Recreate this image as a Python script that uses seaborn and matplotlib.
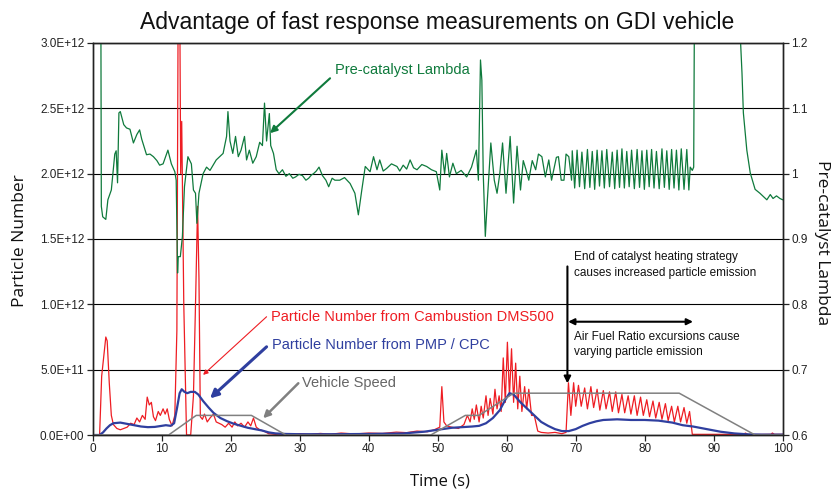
import matplotlib
matplotlib.use("Agg")
import matplotlib.pyplot as plt
import seaborn as sns
import pandas as pd

# ---------------- data ----------------
# DMS500 particle number, (time s, PN in 1e11)
red_points = [
    (0, 0), (1.0, 0), (1.3, 4.5), (1.6, 6.0), (1.9, 7.5), (2.1, 7.2), (2.4, 4.0), (2.7, 1.5),
    (3.0, 0.8), (3.5, 0.5), (4.0, 0.4), (4.5, 0.5), (5.0, 0.6), (5.5, 0.9), (6.0, 0.8),
    (6.4, 1.3), (6.8, 1.0), (7.2, 1.5), (7.6, 1.2), (7.9, 2.9), (8.2, 2.3), (8.5, 2.5),
    (8.8, 1.4), (9.1, 1.1), (9.5, 1.8), (9.8, 1.5), (10.2, 2.0), (10.5, 1.6), (10.8, 2.0),
    (11.1, 1.2), (11.5, 0.7), (11.9, 1.5), (12.2, 8.0), (12.4, 35), (12.6, 35), (12.75, 20),
    (12.9, 24), (13.2, 10), (13.6, 0), (14.2, 0), (14.6, 3.0), (14.9, 10), (15.2, 17.5),
    (15.4, 12), (15.6, 1.4), (15.9, 1.2), (16.2, 1.6), (16.6, 1.0), (17.0, 1.3), (17.5, 1.6),
    (17.9, 1.0), (18.3, 0.9), (18.7, 0.8), (19.2, 0.6), (19.7, 0.9), (20.2, 0.6), (20.6, 1.0),
    (21.0, 0.7), (21.5, 0.9), (22.0, 0.6), (22.5, 1.0), (22.9, 0.7), (23.3, 1.3), (23.7, 0.6),
    (24.2, 0.4), (24.8, 0.3), (25.5, 0.1), (26.5, 0.05), (27.5, 0.1), (29, 0.04), (30, 0.1),
    (31.5, 0.05), (33, 0.12), (34.5, 0.06), (36, 0.15), (38, 0.08), (40, 0.15), (42, 0.12),
    (44, 0.22), (45.5, 0.18), (47, 0.3), (48.5, 0.25), (49.5, 0.4), (50.3, 0.6), (50.6, 3.7),
    (50.9, 1.0), (51.3, 0.7), (52, 0.6), (53, 0.5), (53.8, 0.8), (54.3, 1.5), (54.7, 1.0),
    (55.0, 2.0), (55.3, 1.2), (55.6, 2.3), (56.0, 1.0), (56.3, 2.2), (56.6, 1.3), (57.0, 3.0),
    (57.3, 1.5), (57.6, 2.8), (58.0, 1.6), (58.3, 3.5), (58.6, 2.0), (58.9, 3.0), (59.2, 1.8),
    (59.5, 5.9), (59.8, 2.5), (60.1, 7.1), (60.4, 3.0), (60.7, 6.6), (61.0, 2.5), (61.3, 5.5),
    (61.6, 2.0), (61.9, 4.5), (62.2, 1.8), (62.6, 3.7), (62.9, 2.0), (63.2, 3.5), (63.6, 1.5),
    (64.0, 1.5), (64.5, 0.3), (65, 0.2), (66, 0.15), (67, 0.2), (68, 0.1), (68.6, 0.2),
    (68.95, 4.0), (69.3, 1.5), (69.7, 4.0), (70.0, 2.2), (70.4, 3.8), (70.8, 2.2), (71.3, 3.6),
    (71.7, 2.0), (72.2, 3.7), (72.6, 2.1), (73.1, 3.5), (73.5, 1.9), (74.0, 3.4), (74.4, 2.0),
    (74.9, 3.3), (75.3, 1.8), (75.8, 3.3), (76.2, 1.7), (76.7, 3.1), (77.1, 1.7), (77.6, 3.0),
    (78.0, 1.6), (78.5, 3.0), (78.9, 1.5), (79.4, 2.9), (79.8, 1.5), (80.3, 2.7), (80.7, 1.4),
    (81.2, 2.6), (81.6, 1.3), (82.1, 2.5), (82.5, 1.2), (83.0, 2.4), (83.4, 1.1), (83.9, 2.2),
    (84.3, 1.0), (84.8, 2.2), (85.2, 1.0), (85.7, 2.1), (86.1, 0.9), (86.5, 1.8), (86.9, 0.05),
    (94.3, 0.05), (94.6, 0.15), (95, 0.03), (98.3, 0.05), (98.5, 0.15), (98.8, 0.05), (100, 0.05),
]

# PMP / CPC particle number, (time s, PN in 1e11)
blue_points = [
    (0, 0), (1.0, 0), (1.5, 0.2), (2.0, 0.5), (2.5, 0.75), (3.0, 0.9), (4.0, 0.95), (5.0, 0.85),
    (6.0, 0.75), (7.0, 0.65), (8.0, 0.6), (9.0, 0.62), (10.0, 0.7), (10.6, 0.75), (11.3, 0.7),
    (11.8, 0.9), (12.2, 2.0), (12.6, 3.2), (12.9, 3.5), (13.3, 3.3), (13.7, 3.2), (14.2, 3.3),
    (14.8, 3.3), (15.3, 3.1), (16.0, 2.6), (16.8, 2.1), (17.5, 1.7), (18.5, 1.3), (19.5, 1.05),
    (20.5, 0.85), (21.5, 0.7), (22.5, 0.55), (23.5, 0.45), (24.5, 0.35), (25.5, 0.2),
    (26.5, 0.12), (28, 0.08), (30, 0.06), (35, 0.06), (40, 0.08), (45, 0.12), (48, 0.25),
    (50, 0.4), (52, 0.55), (53.5, 0.6), (55, 0.65), (56, 0.7), (57, 0.9), (58, 1.3), (59, 1.9),
    (59.8, 2.7), (60.4, 3.2), (61, 3.1), (62, 2.5), (63, 2.0), (64, 1.5), (65, 1.0), (66, 0.7),
    (67, 0.45), (68, 0.3), (69, 0.3), (70, 0.45), (71, 0.7), (72, 0.9), (73, 1.05), (74, 1.15),
    (76, 1.2), (78, 1.15), (80, 1.15), (82, 1.1), (84, 0.95), (85.5, 0.75), (87, 0.65),
    (89, 0.45), (91, 0.25), (93, 0.12), (95, 0.05), (97, 0.03), (100, 0.03),
]

# vehicle speed (time s, km/h)
speed_points = [(0, 0), (11, 0), (15, 15), (23, 15), (28, 0), (49, 0), (54, 15), (56, 15),
                (61, 32), (85, 32), (96, 0), (100, 0)]

# pre-catalyst lambda (time s, lambda)
lambda_points = [
    (1.15, 1.40), (1.25, 0.95), (1.45, 0.934), (1.9, 0.93), (2.2, 0.96), (2.7, 0.975),
    (3.2, 1.03), (3.4, 1.035), (3.6, 0.986), (3.8, 1.093), (4.0, 1.095), (4.5, 1.075),
    (4.9, 1.07), (5.4, 1.068), (5.9, 1.047), (6.4, 1.06), (6.8, 1.067), (7.1, 1.053),
    (7.8, 1.029), (8.3, 1.03), (8.8, 1.026), (9.3, 1.02), (9.7, 1.013), (10.2, 1.015),
    (10.9, 1.036), (11.4, 1.015), (11.9, 1.003), (12.1, 0.99), (12.3, 0.848), (12.4, 0.873),
    (12.7, 0.873), (13.0, 0.904), (13.3, 0.98), (13.8, 1.026), (14.3, 1.015), (14.6, 0.975),
    (14.9, 0.97), (15.1, 0.924), (15.4, 0.97), (16.0, 1.0), (16.5, 1.01), (17.0, 1.005),
    (17.9, 1.021), (18.9, 1.031), (19.4, 1.057), (19.6, 1.095), (19.9, 1.05), (20.3, 1.031),
    (20.7, 1.057), (21.1, 1.026), (21.5, 1.036), (22.0, 1.057), (22.3, 1.021), (22.7, 1.036),
    (23.2, 1.016), (23.7, 1.026), (24.2, 1.048), (24.6, 1.043), (24.9, 1.108), (25.2, 1.05),
    (25.6, 1.092), (25.8, 1.043), (26.2, 1.031), (26.6, 1.006), (27.0, 1.0), (27.5, 1.006),
    (28.0, 0.996), (28.5, 1.0), (29.0, 0.993), (29.4, 0.995), (29.9, 0.999), (30.4, 0.997),
    (30.9, 0.99), (31.3, 0.993), (31.7, 0.998), (32.0, 1.0), (32.4, 1.004), (32.8, 1.01),
    (33.3, 0.997), (33.8, 0.99), (34.2, 0.98), (34.7, 0.993), (35.1, 0.99), (35.8, 0.99),
    (36.5, 0.994), (37.3, 0.985), (38.0, 0.97), (38.5, 0.937), (39.0, 0.975), (39.5, 1.011),
    (40.2, 1.003), (40.7, 1.026), (41.2, 1.006), (41.6, 1.021), (42.1, 1.004), (42.6, 1.008),
    (43.3, 1.015), (44.1, 1.011), (44.5, 1.004), (45.0, 1.013), (45.5, 1.007), (46.0, 1.021),
    (46.5, 1.009), (47.0, 1.006), (47.7, 1.014), (48.4, 1.011), (49.1, 1.006), (49.8, 1.003),
    (50.3, 0.975), (50.6, 1.036), (51.0, 1.0), (51.3, 1.031), (51.7, 0.995),
    (52.2, 1.016), (52.7, 1.0), (53.4, 1.005), (54.2, 0.995), (54.9, 1.01), (55.6, 1.036),
    (55.9, 0.99), (56.2, 1.174), (56.4, 1.143), (56.6, 1.0), (56.9, 0.904), (57.2, 0.96),
    (57.7, 1.047), (58.2, 0.99), (58.6, 0.97), (59.0, 1.0), (59.4, 1.047), (59.9, 0.97),
    (60.5, 1.057), (61.0, 0.955), (61.5, 1.042), (62.0, 0.975), (62.4, 1.02), (62.8, 1.006),
    (63.2, 0.99), (63.7, 1.02), (64.2, 1.006), (64.6, 1.03), (65.1, 1.026), (65.6, 0.995),
    (66.1, 1.021), (66.5, 0.99), (67.2, 1.025), (67.5, 1.026), (67.9, 0.99), (68.3, 0.99),
    (68.6, 1.03), (69.0, 1.026), (69.4, 0.99), (69.5, 1.035), (69.85, 0.978), (70.2, 1.036),
    (70.55, 0.98), (70.9, 1.033), (71.3, 0.977), (71.7, 1.037), (72.05, 0.979), (72.4, 1.034),
    (72.75, 0.976), (73.1, 1.036), (73.45, 0.981), (73.8, 1.035), (74.15, 0.978), (74.5, 1.037),
    (74.9, 0.98), (75.3, 1.033), (75.65, 0.977), (76.0, 1.036), (76.35, 0.979), (76.7, 1.038),
    (77.05, 0.978), (77.4, 1.034), (77.75, 0.98), (78.1, 1.036), (78.5, 0.977), (78.9, 1.037),
    (79.25, 0.979), (79.6, 1.035), (79.95, 0.976), (80.3, 1.036), (80.65, 0.98), (81.0, 1.037),
    (81.35, 0.978), (81.7, 1.034), (82.1, 0.977), (82.5, 1.038), (82.85, 0.979), (83.2, 1.035),
    (83.55, 0.976), (83.9, 1.037), (84.25, 0.978), (84.6, 1.036), (84.95, 0.975), (85.3, 1.038),
    (85.7, 0.976), (86.1, 1.037), (86.4, 0.975), (86.6, 1.01), (86.9, 1.005), (87.1, 1.01),
    (87.25, 1.35), (93.6, 1.35), (93.9, 1.2), (94.1, 1.154), (94.3, 1.093), (94.8, 1.036),
    (95.3, 1.001), (96.0, 0.976), (96.7, 0.97), (97.2, 0.965), (97.7, 0.96), (98.2, 0.968),
    (98.6, 0.962), (99.1, 0.966), (99.6, 0.962), (100, 0.96),
]

x_ticks = [0, 10, 20, 30, 40, 50, 60, 70, 80, 90, 100]
pn_ticks = [0.0, 0.5e12, 1.0e12, 1.5e12, 2.0e12, 2.5e12, 3.0e12]
pn_tick_labels = ["0.0E+00", "5.0E+11", "1.0E+12", "1.5E+12", "2.0E+12", "2.5E+12", "3.0E+12"]
lambda_ticks = [0.6, 0.7, 0.8, 0.9, 1.0, 1.1, 1.2]
lambda_tick_labels = ["0.6", "0.7", "0.8", "0.9", "1", "1.1", "1.2"]

# ---------------- styling ----------------
sns.set_style("ticks")
plt.rcParams['font.family'] = ['Liberation Sans', 'DejaVu Sans']

C_RED = '#ee1d23'
C_BLUE = '#2f3f9f'
C_GREY = '#808080'
C_GREEN = '#0f7a3c'

df_red = pd.DataFrame(red_points, columns=['t', 'pn_e11'])
df_red['pn'] = df_red['pn_e11'] * 1e11
df_blue = pd.DataFrame(blue_points, columns=['t', 'pn_e11'])
df_blue['pn'] = df_blue['pn_e11'] * 1e11
df_speed = pd.DataFrame(speed_points, columns=['t', 'kmh'])
df_lam = pd.DataFrame(lambda_points, columns=['t', 'lam'])

fig = plt.figure(figsize=(8.38, 4.94), dpi=100)
ax = fig.add_axes([0.11062, 0.11943, 0.82339, 0.79353])
ax_spd = ax.twinx()
ax_lam = ax.twinx()

sns.lineplot(data=df_red, x='t', y='pn', ax=ax, color=C_RED, lw=0.9, estimator=None, sort=False)
sns.lineplot(data=df_blue, x='t', y='pn', ax=ax, color=C_BLUE, lw=1.6, estimator=None, sort=False)
sns.lineplot(data=df_speed, x='t', y='kmh', ax=ax_spd, color=C_GREY, lw=1.1, estimator=None, sort=False)
sns.lineplot(data=df_lam, x='t', y='lam', ax=ax_lam, color=C_GREEN, lw=0.9, estimator=None, sort=False)

for a in (ax, ax_spd, ax_lam):
    a.set_xlabel('')
    a.set_ylabel('')
    a.set_xlim(0, 100)

ax.set_ylim(0, 3.0e12)
ax.set_yticks(pn_ticks)
ax.set_yticklabels(pn_tick_labels)
ax.set_xticks(x_ticks)
ax.yaxis.grid(True, color='black', lw=0.8)
ax.xaxis.grid(False)
ax.tick_params(axis='both', direction='out', length=4, width=0.9, labelsize=8.5, pad=2, colors='#222222')

ax_spd.set_ylim(0, 300)
ax_spd.set_axis_off()

ax_lam.set_ylim(0.6, 1.2)
ax_lam.set_yticks(lambda_ticks)
ax_lam.set_yticklabels(lambda_tick_labels)
ax_lam.tick_params(axis='y', direction='out', length=4, width=0.9, labelsize=8.5, pad=2, colors='#222222')

for a in (ax, ax_lam):
    for s in a.spines.values():
        s.set_visible(True)
        s.set_color('#222222')
        s.set_linewidth(1.0)

# ---------------- text ----------------
fig.text(0.522, 1 - 22 / 494, "Advantage of fast response measurements on GDI vehicle",
         ha='center', va='center', fontsize=16.5, color='#111111')
lab_font = ['Open Sans', 'DejaVu Sans']
fig.text(20 / 838, 1 - 241 / 494, "Particle Number", rotation=90, ha='center', va='center',
         fontsize=12.5, family=lab_font, color='#111111')
fig.text(822 / 838, 1 - 243 / 494, "Pre-catalyst Lambda", rotation=270, ha='center', va='center',
         fontsize=12.5, family=lab_font, color='#111111')
fig.text(440 / 838, 1 - 481 / 494, "Time (s)", ha='center', va='center',
         fontsize=12, family=lab_font, color='#111111')

def pn_to_lam(pn):
    return 0.6 + pn / 3e12 * 0.6

# green annotation
ax_lam.annotate("", xy=(25.7, 1.062), xytext=(34.4, 1.146),
                arrowprops=dict(arrowstyle='-|>', color=C_GREEN, lw=1.5, mutation_scale=10,
                                shrinkA=0, shrinkB=0))
ax_lam.text(35.1, 1.159, "Pre-catalyst Lambda", color=C_GREEN, fontsize=10.5, ha='left', va='center')

# red annotation
ax_lam.annotate("", xy=(16.0, pn_to_lam(4.6e11)), xytext=(25.2, pn_to_lam(9.05e11)),
                arrowprops=dict(arrowstyle='-|>', color=C_RED, lw=0.8, mutation_scale=7,
                                shrinkA=0, shrinkB=0))
ax_lam.text(25.9, pn_to_lam(9.05e11), "Particle Number from Cambustion DMS500",
            color=C_RED, fontsize=10.5, ha='left', va='center')

# blue annotation
ax_lam.annotate("", xy=(17.0, pn_to_lam(2.8e11)), xytext=(25.2, pn_to_lam(6.75e11)),
                arrowprops=dict(arrowstyle='-|>', color=C_BLUE, lw=2.2, mutation_scale=12,
                                shrinkA=0, shrinkB=0))
ax_lam.text(26.0, pn_to_lam(6.9e11), "Particle Number from PMP / CPC",
            color=C_BLUE, fontsize=10.5, ha='left', va='center')

# grey annotation
ax_lam.annotate("", xy=(24.7, pn_to_lam(1.28e11)), xytext=(29.8, pn_to_lam(3.96e11)),
                arrowprops=dict(arrowstyle='-|>', color=C_GREY, lw=1.8, mutation_scale=10,
                                shrinkA=0, shrinkB=0))
ax_lam.text(30.4, pn_to_lam(3.96e11), "Vehicle Speed",
            color='#666666', fontsize=10.5, ha='left', va='center')

# black annotations
ax_lam.annotate("", xy=(68.8, pn_to_lam(3.95e11)), xytext=(68.8, pn_to_lam(1.29e12)),
                arrowprops=dict(arrowstyle='-|>', color='black', lw=1.5, mutation_scale=10,
                                shrinkA=0, shrinkB=0))
ax_lam.text(69.75, pn_to_lam(1.30e12),
            "End of catalyst heating strategy\ncauses increased particle emission",
            color='#111111', fontsize=8.5, ha='left', va='center', linespacing=1.45)
ax_lam.annotate("", xy=(68.9, pn_to_lam(8.67e11)), xytext=(87.0, pn_to_lam(8.67e11)),
                arrowprops=dict(arrowstyle='<|-|>', color='black', lw=1.5, mutation_scale=9,
                                shrinkA=0, shrinkB=0))
ax_lam.text(69.75, pn_to_lam(6.95e11),
            "Air Fuel Ratio excursions cause\nvarying particle emission",
            color='#111111', fontsize=8.5, ha='left', va='center', linespacing=1.3)

fig.savefig("out.png", dpi=100)
